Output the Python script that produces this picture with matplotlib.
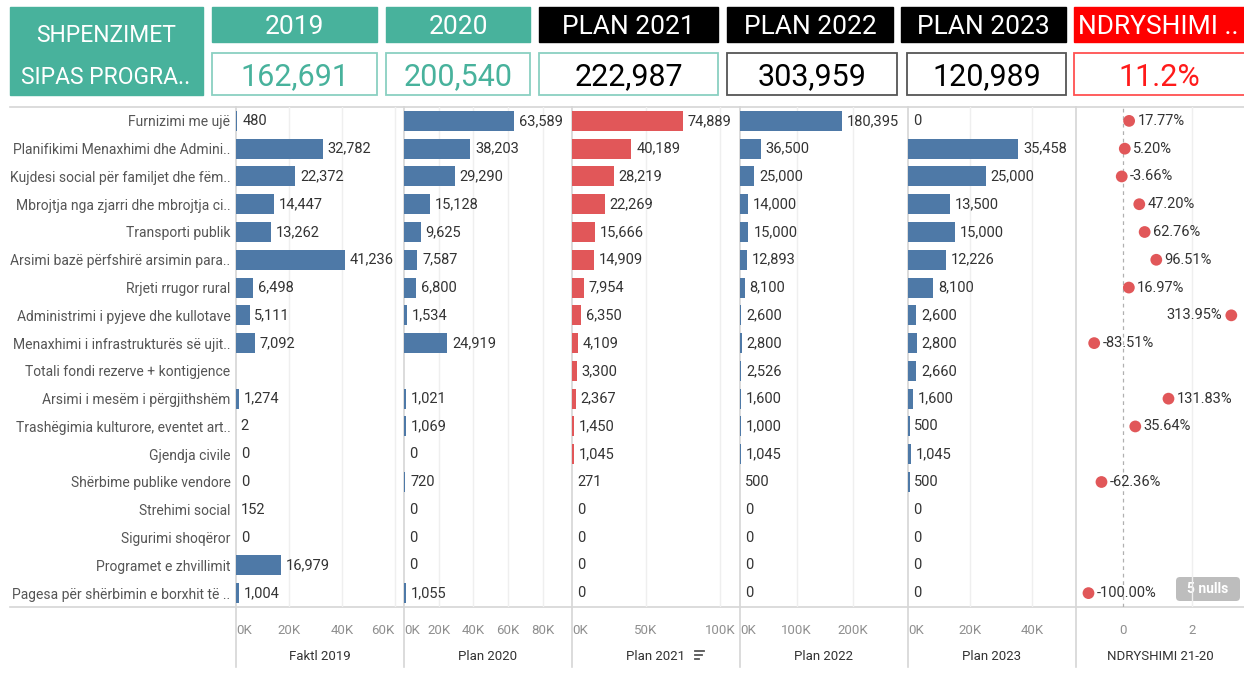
import matplotlib
matplotlib.use("Agg")
import matplotlib.pyplot as plt
from matplotlib.patches import Rectangle, FancyBboxPatch

plt.rcParams["font.family"] = ["Roboto", "DejaVu Sans"]

W, H = 1244, 681

programs = [
    "Furnizimi me ujë",
    "Planifikimi Menaxhimi dhe Admini..",
    "Kujdesi social për familjet dhe fëm..",
    "Mbrojtja nga zjarri dhe mbrojtja ci..",
    "Transporti publik",
    "Arsimi bazë përfshirë arsimin para..",
    "Rrjeti rrugor rural",
    "Administrimi i pyjeve dhe kullotave",
    "Menaxhimi i infrastrukturës së ujit..",
    "Totali fondi rezerve + kontigjence",
    "Arsimi i mesëm i përgjithshëm",
    "Trashëgimia kulturore, eventet art..",
    "Gjendja civile",
    "Shërbime publike vendore",
    "Strehimi social",
    "Sigurimi shoqëror",
    "Programet e zhvillimit",
    "Pagesa për shërbimin e borxhit të ..",
]
fakt_2019 = [480, 32782, 22372, 14447, 13262, 41236, 6498, 5111, 7092, None,
             1274, 2, 0, 0, 152, 0, 16979, 1004]
plan_2020 = [63589, 38203, 29290, 15128, 9625, 7587, 6800, 1534, 24919, None,
             1021, 1069, 0, 720, 0, 0, 0, 1055]
plan_2021 = [74889, 40189, 28219, 22269, 15666, 14909, 7954, 6350, 4109, 3300,
             2367, 1450, 1045, 271, 0, 0, 0, 0]
plan_2022 = [180395, 36500, 25000, 14000, 15000, 12893, 8100, 2600, 2800, 2526,
             1600, 1000, 1045, 500, 0, 0, 0, 0]
plan_2023 = [0, 35458, 25000, 13500, 15000, 12226, 8100, 2600, 2800, 2660,
             1600, 500, 1045, 500, 0, 0, 0, 0]
change_21_20 = [0.1777, 0.0520, -0.0366, 0.4720, 0.6276, 0.9651, 0.1697, 3.1395,
                -0.8351, None, 1.3183, 0.3564, None, -0.6236, None, None, None, -1.0]

header_titles = ["2019", "2020", "PLAN 2021", "PLAN 2022", "PLAN 2023", "NDRYSHIMI .."]
header_totals = ["162,691", "200,540", "222,987", "303,959", "120,989", "11.2%"]

panel_titles = ["Faktl 2019", "Plan 2020", "Plan 2021", "Plan 2022", "Plan 2023", "NDRYSHIMI 21-20"]
panel_ticks = [[0, 20000, 40000, 60000], [0, 20000, 40000, 60000, 80000],
               [0, 50000, 100000], [0, 100000, 200000], [0, 20000, 40000]]
panel_xmax = [63500, 97000, 113500, 297000, 54000]

TEAL = "#48b29c"
BLUE = "#4e79a7"
RED = "#e15759"
TXT = "#333333"

fig = plt.figure(figsize=(W / 100, H / 100), dpi=100)

# background layer in pixel coordinates
bg = fig.add_axes([0, 0, 1, 1])
bg.set_xlim(0, W)
bg.set_ylim(H, 0)
bg.axis("off")

# header boxes
bg.add_patch(Rectangle((10, 7), 193, 88, color=TEAL))
bg.text(106, 35, "SHPENZIMET", color="white", fontsize=16.5, ha="center", va="center")
bg.text(106, 77, "SIPAS PROGRA..", color="white", fontsize=16.5, ha="center", va="center")

title_x = [(212, 377), (386, 530), (539, 718), (727, 893), (901, 1066), (1074, 1250)]
value_x = [(212, 377), (386, 530), (539, 718), (727, 897), (907, 1066), (1074, 1250)]
title_bg = [TEAL, TEAL, "black", "black", "black", "#ff0000"]
value_edge = ["#8ad0c1", "#8ad0c1", "#8ad0c1", "#555555", "#555555", "#ff5050"]
value_col = [TEAL, TEAL, "black", "black", "black", "#ff1a1a"]
for i in range(6):
    x0, x1 = title_x[i]
    bg.add_patch(Rectangle((x0, 7), x1 - x0, 35, color=title_bg[i]))
    if i == 5:
        bg.text(x0 + 4, 27, header_titles[i], color="white", fontsize=19, ha="left", va="center")
    else:
        bg.text((x0 + x1) / 2, 27, header_titles[i], color="white", fontsize=19,
                ha="center", va="center")
    v0, v1 = value_x[i]
    bg.add_patch(Rectangle((v0, 53), v1 - v0, 42, facecolor="white",
                           edgecolor=value_edge[i], lw=1.3))
    cx = (v0 + min(v1, 1244)) / 2
    bg.text(cx, 77, header_totals[i], color=value_col[i], fontsize=22, ha="center", va="center")

# frame lines
SEP = "#d6d6d6"
bg.plot([10, W], [107, 107], color=SEP, lw=1.2)
bg.plot([10, W], [607, 607], color=SEP, lw=1.2)
px0 = [236, 404, 572, 740, 908, 1076]
for x in px0:
    bg.plot([x, x], [107, 667], color=SEP, lw=1.2)

# sort icon next to Plan 2021
for k, ln in enumerate([9, 7, 4]):
    bg.plot([695, 695 + ln], [651 + 4 * k, 651 + 4 * k], color="#555555", lw=1.3)

series = [fakt_2019, plan_2020, plan_2021, plan_2022, plan_2023]
n = len(programs)
rows = list(range(n))


def panel_axes(x0):
    ax = fig.add_axes([x0 / W, 1 - 607 / H, 168 / W, 500 / H])
    ax.set_facecolor("none")
    for s in ax.spines.values():
        s.set_visible(False)
    ax.set_ylim(n - 0.5, -0.5)
    ax.set_yticks([])
    ax.tick_params(axis="x", length=0, pad=12, labelsize=9.5, labelcolor="#8f8f8f")
    return ax


for p in range(5):
    ax = panel_axes(px0[p])
    ax.set_xlim(0, panel_xmax[p])
    ticks = panel_ticks[p]
    ax.set_xticks(ticks, [f"{t // 1000}K" for t in ticks])
    for t in ticks[1:]:
        ax.axvline(t, color="#efefef", lw=1, zorder=0)
    labs = ax.get_xticklabels()
    labs[0].set_ha("left")
    if p == 0:
        labs[-1].set_ha("right")
    color = RED if p == 2 else BLUE
    vals = series[p]
    for i, v in zip(rows, vals):
        if v is None:
            continue
        ax.barh(i, v, height=0.72, color=color, zorder=2, linewidth=0)
        ax.annotate(f"{v:,}", (v, i), xytext=(3.5, 0), textcoords="offset points",
                    va="center", ha="left", fontsize=10.5, color=TXT)
    ax.text(0.5, -0.1, panel_titles[p], transform=ax.transAxes, ha="center",
            va="center", fontsize=9.5, color=TXT)
    if p == 0:
        ax.set_yticks(rows, programs)
        ax.tick_params(axis="y", length=0, pad=4, labelsize=10, labelcolor="#555555")

# change panel
ax = panel_axes(px0[5])
ax.set_xlim(-1.362, 3.507)
ax.set_xticks([0, 2], ["0", "2"])
ax.axvline(0, color="#b0b0b0", lw=0.9, ls=(0, (3, 3)), zorder=0)
ax.axvline(2, color="#efefef", lw=1, zorder=0)
for i, c in zip(rows, change_21_20):
    if c is None:
        continue
    ax.scatter(c, i, s=72, color=RED, zorder=3, edgecolors="none")
    if c > 2.5:
        ax.annotate(f"{c * 100:.2f}%", (c, i), xytext=(-7, 0), textcoords="offset points",
                    va="center", ha="right", fontsize=10.5, color=TXT)
    else:
        ax.annotate(f"{c * 100:.2f}%", (c, i), xytext=(6, 0), textcoords="offset points",
                    va="center", ha="left", fontsize=10.5, color=TXT)
ax.text(0.5, -0.1, panel_titles[5], transform=ax.transAxes, ha="center",
        va="center", fontsize=9.5, color=TXT)

# nulls indicator
bg.add_patch(FancyBboxPatch((1176, 577), 64, 24, boxstyle="round,pad=0,rounding_size=4",
                            facecolor="#bdbdbd", edgecolor="none", zorder=5))
bg.text(1208, 589, "5 nulls", color="white", fontsize=10, fontweight="bold",
        ha="center", va="center", zorder=6)

fig.savefig("out.png", dpi=100)
